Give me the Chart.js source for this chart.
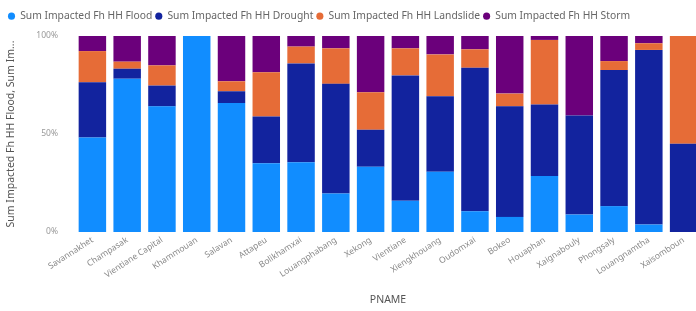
<!DOCTYPE html>
<html>
<head>
<meta charset="utf-8">
<script src="https://cdn.jsdelivr.net/npm/chart.js@4/dist/chart.umd.min.js"></script>
<style>
  html, body { margin: 0; padding: 0; background: #fff; overflow: hidden; }
  #wrap { position: absolute; left: 0; top: 0; width: 702px; height: 311px; }
</style>
</head>
<body>
<div id="wrap"><canvas id="chart"></canvas></div>
<script>
// provinces
var provinces = ["Savannakhet", "Champasak", "Vientiane Capital", "Khammouan", "Salavan", "Attapeu",
  "Bolikhamxai", "Louangphabang", "Xekong", "Vientiane", "Xiengkhouang", "Oudomxai", "Bokeo",
  "Houaphan", "Xaignabouly", "Phongsaly", "Louangnamtha", "Xaisomboun"];

// share of impacted households per hazard (percent)
var flood     = [48.2, 78.2, 64.1, 100, 65.8, 35.1, 35.6, 19.7, 33.3, 15.9, 30.8, 10.6, 7.7, 28.6, 8.9, 13.2, 3.8, 0];
var drought   = [28.2, 5.1, 10.6, 0, 6.0, 23.9, 50.4, 55.9, 18.8, 63.9, 38.5, 73.2, 56.4, 36.4, 50.6, 69.4, 89.0, 45.0];
var landslide = [15.9, 3.6, 10.3, 0, 5.1, 22.6, 8.6, 18.1, 19.1, 13.8, 21.4, 9.4, 6.5, 33.0, 0, 4.6, 3.4, 55.0];
var storm     = [7.7, 13.1, 15.0, 0, 23.1, 18.5, 5.4, 6.3, 28.7, 6.3, 9.4, 6.8, 29.4, 2.0, 40.5, 12.8, 3.7, 0];

var yTicks = ["0%", "50%", "100%"];

var FONT = "'Noto Sans', sans-serif";

// 100% stacked: each column is scaled to its own total
function share(arr, i) {
  var t = flood[i] + drought[i] + landslide[i] + storm[i];
  return arr[i] / t * 100;
}
function series(arr) {
  return arr.map(function(v, i) { return share(arr, i); });
}

var legendHeight = {
  id: "legendHeight",
  afterInit: function(chart) {
    var lg = chart.legend;
    var fit = lg.fit;
    lg.fit = function() {
      fit.call(this);
      this.height = 28;
    };
  }
};

new Chart(document.getElementById("chart"), {
  type: "bar",
  data: {
    labels: provinces,
    datasets: [
      { label: "Sum Impacted Fh HH Flood", data: series(flood), backgroundColor: "#118DFF" },
      { label: "Sum Impacted Fh HH Drought", data: series(drought), backgroundColor: "#12239E" },
      { label: "Sum Impacted Fh HH Landslide", data: series(landslide), backgroundColor: "#E66C37" },
      { label: "Sum Impacted Fh HH Storm", data: series(storm), backgroundColor: "#6B007B" }
    ]
  },
  options: {
    responsive: true,
    maintainAspectRatio: false,
    animation: false,
    layout: { padding: { top: 8, left: 5, right: 1, bottom: 0 } },
    datasets: { bar: { barPercentage: 0.79, categoryPercentage: 1 } },
    plugins: {
      legend: {
        position: "top",
        align: "start",
        labels: {
          usePointStyle: true,
          pointStyle: "circle",
          boxWidth: 7,
          boxHeight: 5,
          padding: 3,
          color: "#666",
          font: { family: FONT, size: 10.3 }
        }
      },
      tooltip: { enabled: false }
    },
    scales: {
      x: {
        stacked: true,
        grid: { display: false, drawTicks: false },
        border: { display: false },
        ticks: {
          autoSkip: false,
          minRotation: 33,
          maxRotation: 33,
          padding: 3,
          color: "#888",
          font: { family: FONT, size: 8.5 }
        },
        title: {
          display: true,
          text: "PNAME",
          color: "#555",
          font: { family: FONT, size: 10.5 },
          padding: { top: 4, bottom: 5 }
        },
        afterFit: function(s) { s.height = 79; }
      },
      y: {
        stacked: true,
        min: 0,
        max: 100,
        grid: { display: false, drawTicks: false },
        border: { display: false },
        ticks: {
          stepSize: 50,
          padding: 17,
          color: "#999",
          font: { family: FONT, size: 8.5 },
          callback: function(v) { return yTicks[v / 50]; }
        },
        title: {
          display: true,
          text: "Sum Impacted Fh HH Flood, Sum Im...",
          color: "#555",
          font: { family: FONT, size: 10.5 },
          padding: { top: 0, bottom: 4 }
        },
        afterFit: function(s) { s.width = 70; }
      }
    }
  },
  plugins: [legendHeight]
});
</script>
</body>
</html>
